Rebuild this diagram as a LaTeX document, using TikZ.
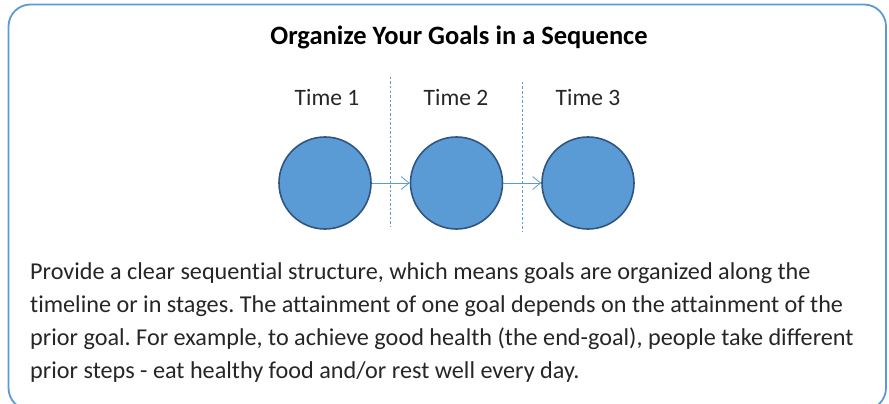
\documentclass[tikz,border=0pt]{standalone}
\usepackage{fontspec}
\setmainfont{Carlito}[Ligatures=NoCommon]
\usetikzlibrary{arrows.meta}
\definecolor{boxblue}{HTML}{5B9BD5}
\definecolor{circfill}{HTML}{5B9BD5}
\definecolor{circline}{HTML}{2F5580}
\definecolor{txt}{HTML}{262626}
\tikzset{
  goal/.style={circle, draw=circline, line width=1.6pt, fill=circfill, minimum size=92pt, inner sep=0pt},
  seqarrow/.style={draw=boxblue, line width=0.8pt, -{Straight Barb[length=8pt,width=13pt]}},
  divider/.style={draw=boxblue, line width=0.7pt, dash pattern=on 2.5pt off 2pt},
  timelabel/.style={font=\fontsize{23.5}{26}\selectfont, text=txt, anchor=base},
  bodyline/.style={font=\fontsize{24.2}{28}\selectfont, text=txt, anchor=base west, inner sep=0pt},
}
\begin{document}
\frenchspacing
\begin{tikzpicture}[x=1pt,y=-1pt]
\useasboundingbox (0,0) rectangle (889,404);
\begin{scope}
\clip (0,0) rectangle (889,404);
\draw[boxblue, line width=1.8pt, rounded corners=22pt, fill=white] (8.5,4.5) rectangle (886,410);
\end{scope}
\node[font=\bfseries\fontsize{26.5}{30}\selectfont, anchor=base] (title) at (459,45) {Organize Your Goals in a Sequence};
\node[timelabel] (t1) at (327,106) {Time 1};
\node[timelabel] (t2) at (456,106) {Time 2};
\node[timelabel] (t3) at (588,106) {Time 3};
\coordinate (d1a) at (390,77);
\coordinate (d1b) at (390,227);
\coordinate (d2a) at (522,82);
\coordinate (d2b) at (522,232);
\draw[divider] (d1a) -- (d1b);
\draw[divider] (d2a) -- (d2b);
\node[goal] (g1) at (325,183) {};
\node[goal] (g2) at (456.5,183) {};
\node[goal] (g3) at (588,183) {};
\draw[seqarrow] (g1) -- (g2);
\draw[seqarrow] (g2) -- (g3);
\node[bodyline] (l1) at (30,279) {Provide a clear sequential structure, which means goals are organized along the};
\node[bodyline] (l2) at (30,312) {timeline or in stages. The attainment of one goal depends on the attainment of the};
\node[bodyline] (l3) at (30,345) {prior goal. For example, to achieve good health (the end-goal), people take different};
\node[bodyline] (l4) at (30,378) {prior steps - eat healthy food and/or rest well every day.};
\end{tikzpicture}
\end{document}
